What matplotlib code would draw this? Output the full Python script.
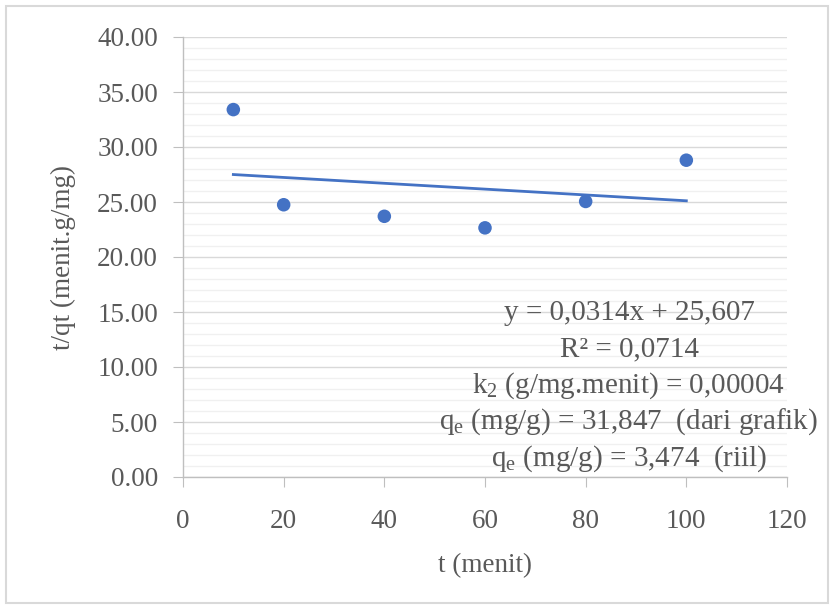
import numpy as np
import matplotlib.pyplot as plt
from matplotlib.ticker import MultipleLocator, FormatStrFormatter
from matplotlib.patches import Rectangle

# Pseudo-second-order kinetics: t/qt versus t
t_menit = [10, 20, 40, 60, 80, 100]
t_per_qt = [33.40, 24.75, 23.70, 22.65, 25.05, 28.80]

info_lines = [
    "y = 0,0314x + 25,607",
    "R² = 0,0714",
    r"k$_\mathrm{2}$ (g/mg.menit) = 0,00004",
    r"q$_\mathrm{e}$ (mg/g) = 31,847  (dari grafik)",
    r"q$_\mathrm{e}$ (mg/g) = 3,474  (riil)",
]

plt.rcParams['font.family'] = ['Liberation Serif', 'DejaVu Serif']
plt.rcParams['mathtext.fontset'] = 'custom'
plt.rcParams['mathtext.rm'] = 'Liberation Serif'
plt.rcParams['mathtext.it'] = 'Liberation Serif:italic'

text_color = '#595959'
blue = '#4472C4'
fs = 19.5

fig = plt.figure(figsize=(8.3, 6.07), dpi=100)
fig.patch.set_facecolor('white')

# light chart-area border
fig.patches.append(Rectangle((6 / 830, 4 / 607), 822 / 830, 597 / 607,
                             transform=fig.transFigure, fill=False,
                             edgecolor='#d9d9d9', linewidth=1.5))

ax = fig.add_axes([183 / 830, 1 - 477 / 607, (787 - 183) / 830, (477 - 37) / 607])

ax.set_xlim(0, 120)
ax.set_ylim(0, 40)
ax.xaxis.set_major_locator(MultipleLocator(20))
ax.yaxis.set_major_locator(MultipleLocator(5))
ax.yaxis.set_minor_locator(MultipleLocator(1))
ax.yaxis.set_major_formatter(FormatStrFormatter('%.2f'))

ax.grid(axis='y', which='major', color='#d9d9d9', linewidth=1.0)
ax.grid(axis='y', which='minor', color='#f0f0f0', linewidth=1.0)
ax.set_axisbelow(True)

for side in ('top', 'right'):
    ax.spines[side].set_visible(False)
for side in ('left', 'bottom'):
    ax.spines[side].set_color('#bfbfbf')
    ax.spines[side].set_linewidth(1.0)

ax.tick_params(axis='both', which='major', direction='out', length=7,
               color='#bfbfbf', labelsize=fs, labelcolor=text_color)
ax.tick_params(axis='y', which='major', pad=11)
ax.tick_params(axis='x', which='major', pad=16)
ax.tick_params(axis='y', which='minor', length=0)

# data points
ax.scatter(t_menit, t_per_qt, s=95, color=blue, zorder=3, edgecolors='none')

# linear trendline
coef = np.polyfit(t_menit, t_per_qt, 1)
xs = np.array([min(t_menit), max(t_menit)])
ax.plot(xs, np.polyval(coef, xs), color=blue, linewidth=2, zorder=2)

ax.set_xlabel('t (menit)', fontsize=fs, color=text_color, labelpad=14)
ax.set_ylabel('t/qt (menit.g/mg)', fontsize=fs, color=text_color, labelpad=15)

# equation / parameter block
y0 = 313
for i, line in enumerate(info_lines):
    fig.text(629 / 830, 1 - (y0 + i * 36.3) / 607, line, ha='center', va='center',
             fontsize=21, color=text_color)

fig.savefig('out.png', dpi=100)
